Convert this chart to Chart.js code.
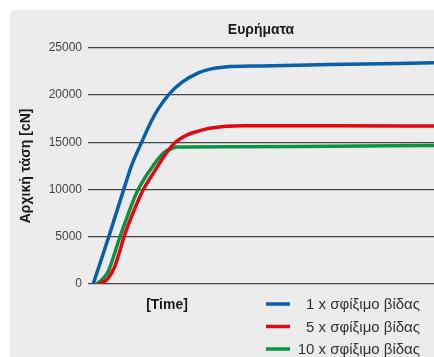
<!DOCTYPE html>
<html>
<head>
<meta charset="utf-8">
<script src="https://cdn.jsdelivr.net/npm/chart.js@4.4.1/dist/chart.umd.min.js"></script>
<style>
  html, body { margin: 0; padding: 0; background: #fff; }
  #panel {
    position: absolute; left: 10px; top: 10px;
    width: 424px; height: 347px;
    background: #ececec; border-top-left-radius: 6px;
    overflow: hidden;
  }
  #panel canvas { display: block; }
</style>
</head>
<body>
<div id="panel"><canvas id="chart" width="424" height="347"></canvas></div>
<script>
// --- data ---
const chartTitle = 'Ευρήματα';
const yTitle = 'Αρχική τάση [cN]';
const xTitle = '[Time]';
const yTicks = [0, 5000, 10000, 15000, 20000, 25000];

const seriesLabels = ['1 x σφίξιμο βίδας', '5 x σφίξιμο βίδας', '10 x σφίξιμο βίδας'];
const seriesColors = ['#0b5ea8', '#e30613', '#0a9344'];

const blueTime = [1.5, 6, 10.7, 12.6, 15.5, 18.4, 20.3, 23.2, 27.1, 31.9, 35, 39.6, 50, 70, 100];
const blueVals = [0, 5000, 10440, 12550, 15000, 17300, 18530, 20000, 21340, 22350, 22720, 22960, 23080, 23220, 23420];

const redTime = [2.9, 4.2, 5.8, 7.7, 9.2, 10.4, 13.2, 16, 19.4, 22.7, 25.3, 28.5, 31.9, 35.1, 40, 45, 70, 100];
const redVals = [0, 150, 600, 1830, 3500, 5000, 7700, 10000, 12030, 13900, 15000, 15750, 16180, 16480, 16700, 16760, 16750, 16720];

const greenTime = [2.5, 4, 5.8, 9.25, 13, 14.5, 17.9, 21.8, 24.7, 26, 42.5, 70, 100];
const greenVals = [0, 450, 1300, 5000, 8750, 10000, 12030, 13850, 14420, 14490, 14520, 14590, 14660];

const FONT = "'Liberation Sans', Arial, sans-serif";

const toPoints = (xs, ys) => xs.map((x, i) => ({ x: x, y: ys[i] }));

const series = [
    toPoints(blueTime, blueVals),
    toPoints(redTime, redVals),
    toPoints(greenTime, greenVals)
];

// legend + x label drawn by hand (right-aligned legend text)
const sideText = {
    id: 'sideText',
    afterDraw(chart) {
        const ctx = chart.ctx;
        ctx.save();
        ctx.font = `bold 14px ${FONT}`;
        ctx.fillStyle = '#1a1a1a';
        ctx.textAlign = 'center';
        ctx.textBaseline = 'middle';
        ctx.fillText(xTitle, 157, 295);

        ctx.font = `15px ${FONT}`;
        ctx.textAlign = 'right';
        ctx.fillStyle = '#333';
        chart.data.datasets.forEach((ds, i) => {
            const y = 294 + i * 22.5;
            ctx.strokeStyle = ds.borderColor;
            ctx.lineWidth = 3.5;
            ctx.beginPath();
            ctx.moveTo(256, y);
            ctx.lineTo(280, y);
            ctx.stroke();
            ctx.fillText(ds.label, 410, y + 1);
        });
        ctx.restore();
    }
};

new Chart(document.getElementById('chart'), {
    type: 'line',
    data: {
        datasets: series.map((pts, i) => ({
            label: seriesLabels[i],
            data: pts,
            borderColor: seriesColors[i],
            borderWidth: 3.5,
            pointRadius: 0,
            cubicInterpolationMode: 'monotone',
            fill: false
        }))
    },
    options: {
        responsive: false,
        animation: false,
        layout: { padding: { left: 0, right: 0, top: 0, bottom: 73 } },
        plugins: {
            legend: { display: false },
            tooltip: { enabled: false },
            title: {
                display: true,
                fullSize: false,
                text: chartTitle,
                font: { family: FONT, size: 14, weight: 'bold' },
                color: '#1a1a1a',
                padding: { top: 12, bottom: 9 }
            }
        },
        scales: {
            x: {
                type: 'linear',
                min: 0,
                max: 100,
                display: false
            },
            y: {
                min: 0,
                max: 25000,
                afterBuildTicks: s => { s.ticks = yTicks.map(v => ({ value: v })); },
                afterFit: s => { s.width = 78; },
                border: { display: false },
                grid: { color: '#444', lineWidth: 1.2, drawTicks: false },
                ticks: {
                    padding: 6,
                    color: '#444',
                    font: { family: FONT, size: 12 },
                    callback: v => String(v)
                },
                title: {
                    display: true,
                    text: yTitle,
                    color: '#1a1a1a',
                    font: { family: FONT, size: 14, weight: 'bold' },
                    padding: { top: 8, bottom: 0 }
                }
            }
        }
    },
    plugins: [sideText]
});
</script>
</body>
</html>
